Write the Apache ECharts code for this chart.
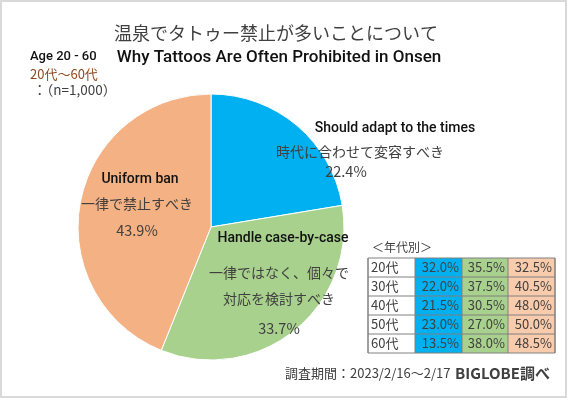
<!DOCTYPE html>
<html>
<head>
<meta charset="utf-8">
<script src="https://cdn.jsdelivr.net/npm/echarts@6/dist/echarts.min.js"></script>
<style>
  html, body { margin: 0; padding: 0; background: #fff; }
  #main { width: 567px; height: 398px; }
</style>
</head>
<body>
<div id="main"></div>
<script>
// pie data (share of respondents, %)
var categoriesEn = ['Should adapt to the times', 'Handle case-by-case', 'Uniform ban'];
var categoriesJa = [['時代に合わせて変容すべき'], ['一律ではなく、個々で', '対応を検討すべき'], ['一律で禁止すべき']];
var shares = [22.4, 33.7, 43.9];
var sliceColors = ['#00b0f0', '#a9d18e', '#f4b183'];

// breakdown by age group
var ageGroups = ['20代', '30代', '40代', '50代', '60代'];
var byAgeAdapt = [32.0, 22.0, 21.5, 23.0, 13.5];
var byAgeCase = [35.5, 37.5, 30.5, 27.0, 38.0];
var byAgeBan = [32.5, 40.5, 48.0, 50.0, 48.5];
var tableColors = ['#00b0f0', '#a9d18e', '#f8cbad'];

var CJK = '"Noto Sans CJK JP", sans-serif';
var EN = 'Roboto, "Noto Sans", sans-serif';
var txtColor = '#404040';

var chart = echarts.init(document.getElementById('main'));

var graphics = [];

// outer frame
graphics.push({
  type: 'rect', shape: { x: 1, y: 1, width: 565, height: 396 },
  style: { fill: 'none', stroke: '#d9d9d9', lineWidth: 2 }, silent: true
});

function txt(x, y, text, font, color, align) {
  graphics.push({
    type: 'text', x: x, y: y, silent: true, z: 10,
    style: { text: text, font: font, fill: color || txtColor, align: align || 'center', verticalAlign: 'middle' }
  });
}

// titles
txt(276, 33, '温泉でタトゥー禁止が多いことについて', '18px ' + CJK, '#404040');
txt(279, 58, 'Why Tattoos Are Often Prohibited in Onsen', '500 17px ' + EN, '#111');
txt(30, 57, 'Age 20 - 60', '500 13px ' + EN, '#111', 'left');
txt(30, 74, '20代～60代', '13px ' + CJK, '#8c4a22', 'left');
txt(30, 90, ' ：（n=1,000）', '13.5px ' + CJK, txtColor, 'left');

// slice labels
var labelPos = [
  { x: 395, y: 128, lines: [152], pct: 171, jx: 360, px: 346 },
  { x: 283, y: 238, lines: [273, 299], pct: 328, jx: 279, px: 279 },
  { x: 140, y: 179, lines: [204], pct: 230, jx: 137, px: 137 }
];
for (var i = 0; i < shares.length; i++) {
  var p = labelPos[i];
  txt(p.x, p.y, categoriesEn[i], '500 14px ' + EN, '#111');
  for (var j = 0; j < categoriesJa[i].length; j++) {
    txt(p.jx, p.lines[j], categoriesJa[i][j], '14px ' + CJK, txtColor);
  }
  txt(p.px, p.pct, shares[i].toFixed(1) + '%', '14.5px ' + CJK, txtColor);
}

// age table
var tx = 368, ty = 258, rowH = 19;
var colX = [368, 415, 462, 508, 555];
var cols = [byAgeAdapt, byAgeCase, byAgeBan];
txt(372, 247, '＜年代別＞', '12px ' + CJK, txtColor, 'left');
for (var c = 0; c < 3; c++) {
  graphics.push({
    type: 'rect', silent: true,
    shape: { x: colX[c + 1], y: ty, width: colX[c + 2] - colX[c + 1], height: rowH * ageGroups.length },
    style: { fill: tableColors[c] }
  });
}
for (var r = 0; r < ageGroups.length; r++) {
  var cy = ty + rowH * r + rowH / 2;
  txt(tx + 3, cy, ageGroups[r], '13px ' + CJK, txtColor, 'left');
  for (var c2 = 0; c2 < 3; c2++) {
    txt(colX[c2 + 2] - 3, cy, cols[c2][r].toFixed(1) + '%', '13px ' + CJK, txtColor, 'right');
  }
  if (r > 0) {
    graphics.push({
      type: 'line', silent: true, z: 5,
      shape: { x1: tx, y1: ty + rowH * r, x2: colX[4], y2: ty + rowH * r },
      style: { stroke: '#808080', lineWidth: 1 }
    });
  }
}
for (var k = 0; k < colX.length; k++) {
  graphics.push({
    type: 'line', silent: true, z: 5,
    shape: { x1: colX[k], y1: ty, x2: colX[k], y2: ty + rowH * ageGroups.length },
    style: { stroke: '#808080', lineWidth: 1 }
  });
}
graphics.push({
  type: 'rect', silent: true, z: 5,
  shape: { x: tx, y: ty, width: colX[4] - tx, height: rowH * ageGroups.length },
  style: { fill: 'none', stroke: '#808080', lineWidth: 1 }
});

// footer
txt(285, 373, '調査期間：2023/2/16～2/17', '13px ' + CJK, txtColor, 'left');
txt(455, 373, 'BIGLOBE調べ', 'bold 15px ' + CJK, '#404040', 'left');

chart.setOption({
  animation: false,
  backgroundColor: '#fff',
  series: [{
    type: 'pie',
    center: [211, 227],
    radius: 133,
    startAngle: 90,
    clockwise: true,
    label: { show: false },
    labelLine: { show: false },
    itemStyle: { borderColor: '#fff', borderWidth: 1 },
    data: shares.map(function (v, i) {
      return { name: categoriesEn[i], value: v, itemStyle: { color: sliceColors[i] } };
    })
  }],
  graphic: graphics
});
</script>
</body>
</html>
